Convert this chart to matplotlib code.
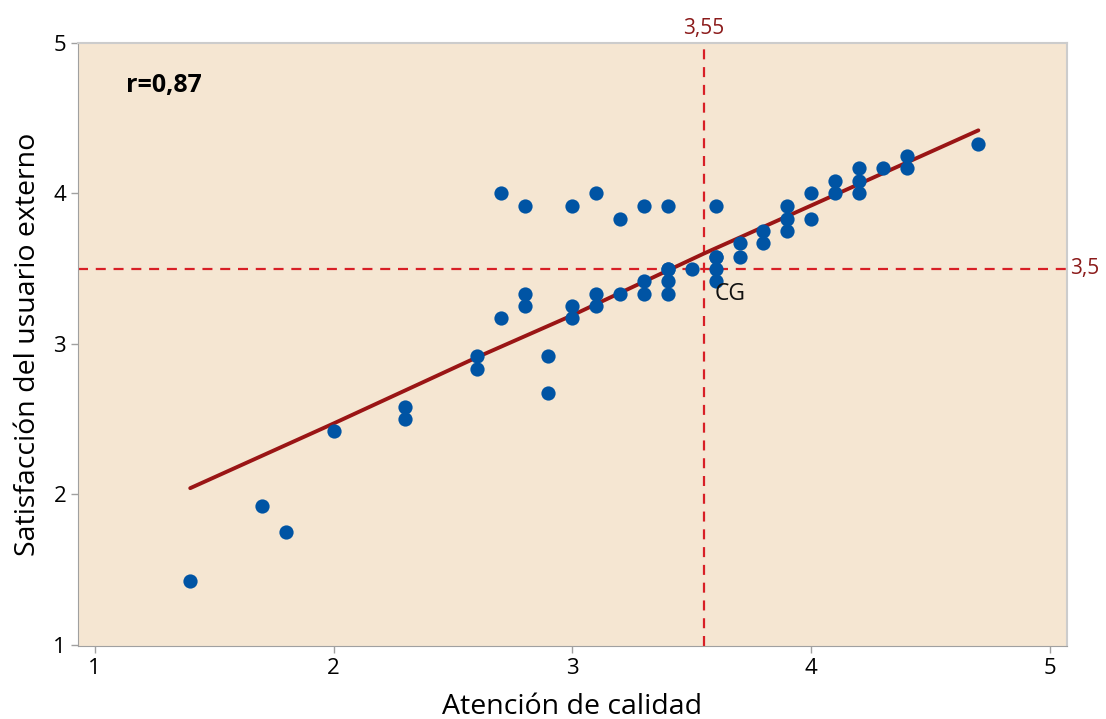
import numpy as np
import matplotlib.pyplot as plt

plt.rcParams['font.family'] = ['Open Sans', 'DejaVu Sans']

# puntos (atencion de calidad, satisfaccion del usuario externo)
atencion = [1.4, 1.7, 1.8, 2.0, 2.3, 2.3, 2.6, 2.6,
            2.7, 2.7, 2.8, 2.8, 2.8, 2.9, 2.9,
            3.0, 3.0, 3.0, 3.1, 3.1, 3.1, 3.2, 3.2,
            3.3, 3.3, 3.3, 3.4, 3.4, 3.4, 3.4, 3.4, 3.5,
            3.6, 3.6, 3.6, 3.6, 3.6, 3.7, 3.7, 3.8, 3.8,
            3.9, 3.9, 3.9, 4.0, 4.0, 4.1, 4.1, 4.2, 4.2, 4.2,
            4.3, 4.4, 4.4, 4.7]
satisf = [1.42, 1.92, 1.75, 2.42, 2.58, 2.50, 2.92, 2.83,
          4.00, 3.17, 3.92, 3.33, 3.25, 2.92, 2.67,
          3.92, 3.25, 3.17, 4.00, 3.33, 3.25, 3.83, 3.33,
          3.92, 3.42, 3.33, 3.92, 3.50, 3.42, 3.33, 3.50, 3.50,
          3.92, 3.58, 3.50, 3.42, 3.58, 3.67, 3.58, 3.75, 3.67,
          3.92, 3.83, 3.75, 4.00, 3.83, 4.08, 4.00, 4.17, 4.08, 4.00,
          4.17, 4.25, 4.17, 4.33]

# linea de ajuste
ajuste_x = [1.4, 2.0, 2.6, 3.0, 3.55, 4.0, 4.7]
ajuste_y = [2.04, 2.47, 2.91, 3.19, 3.60, 3.92, 4.42]

cg_x = 3.55
cg_y = 3.5
r_txt = "r=0,87"

fig = plt.figure(figsize=(11.06, 7.19), dpi=100)
ax = fig.add_axes([0.0705, 0.1015, 0.894, 0.8385])
ax.set_facecolor('#f5e6d2')

ax.plot(ajuste_x, ajuste_y, color='#9a1515', lw=2.8, zorder=3, solid_capstyle='round')
ax.scatter(atencion, satisf, s=105, color='#0054a4', zorder=4, linewidths=0)

ax.axvline(cg_x, color='#d81f26', lw=1.6, dashes=(4.5, 3.5), zorder=2)
ax.axhline(cg_y, color='#d81f26', lw=1.6, dashes=(4.5, 3.5), zorder=2)

ax.text(cg_x, 5.03, "3,55", color='#8b1a1a', fontsize=15, fontweight='medium',
        ha='center', va='bottom')
ax.text(5.085, cg_y, "3,5", color='#8b1a1a', fontsize=15, fontweight='medium',
        ha='left', va='center')
ax.text(3.595, 3.33, "CG", color='#111111', fontsize=16.5, ha='left', va='center', zorder=5)
ax.text(1.13, 4.72, r_txt, fontsize=18, fontweight='bold', ha='left', va='center')

ax.set_xlim(0.93, 5.07)
ax.set_ylim(0.99, 5.0)
ax.set_xticks([1, 2, 3, 4, 5])
ax.set_yticks([1, 2, 3, 4, 5])
ax.tick_params(labelsize=16, color='#a0a0a0', length=5, width=1)
for lbl in ax.get_xticklabels() + ax.get_yticklabels():
    lbl.set_fontweight('medium')
for s in ['left', 'bottom']:
    ax.spines[s].set_color('#a0a0a0')
for s in ['top', 'right']:
    ax.spines[s].set_color('#cccccc')
    ax.spines[s].set_linewidth(1.5)

ax.set_xlabel("Atención de calidad", fontsize=20.5, fontweight='medium', labelpad=10)
ax.set_ylabel("Satisfacción del usuario externo", fontsize=20.5, fontweight='medium',
              labelpad=8)

fig.savefig('out.png', dpi=100)
